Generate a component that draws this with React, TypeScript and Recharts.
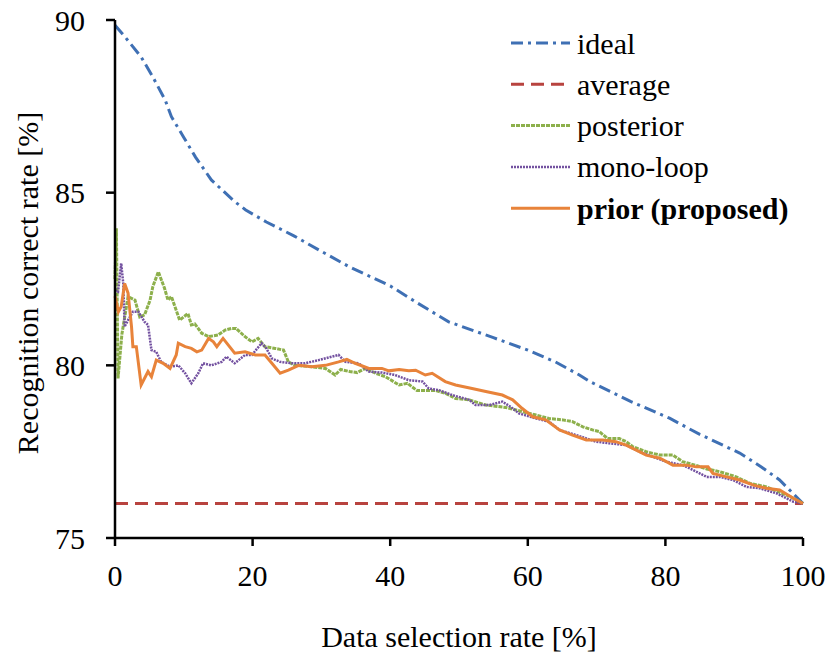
import { Line, LineChart, XAxis, YAxis } from 'recharts'

// Recognition correct rate vs. data selection rate for each selection method.

const FONT = '"Liberation Serif", "Times New Roman", serif'

const X_TICKS = [0, 20, 40, 60, 80, 100]
const Y_TICKS = [75, 80, 85, 90]

const idealX = [0, 1.5, 3.8, 5.5, 7.3, 8.2, 10, 11.7, 14, 17.4, 19, 22, 26, 30, 34, 40, 44, 48.5, 55, 60, 64, 67.5, 69, 75, 80.6, 85, 90.8, 94, 96.6, 100]
const idealY = [89.85, 89.5, 88.93, 88.35, 87.68, 87.2, 86.6, 86.03, 85.37, 84.74, 84.5, 84.15, 83.75, 83.3, 82.86, 82.3, 81.8, 81.26, 80.8, 80.44, 80.1, 79.72, 79.53, 78.95, 78.47, 78.0, 77.46, 77.05, 76.68, 76.0]

const averageX = [0, 100]
const averageY = [76, 76]

const posteriorX = [0, 0.2, 0.44, 1.0, 1.9, 2.9, 3.6, 4.3, 5.1, 5.5, 6.3, 7.2, 7.7, 8.2, 9.4, 10.6, 11.1, 11.6, 12.6, 13.6, 15, 16, 17, 17.6, 18.9, 19.9, 20.8, 21.8, 23.3, 24.5, 25.2, 26.2, 28.6, 30.6, 32, 32.8, 34.1, 35.2, 36.4, 37.9, 39.3, 41.3, 42.5, 43.9, 46.6, 48, 49.5, 51.5, 53.9, 56.8, 59.2, 61.2, 63.1, 65.1, 66.5, 68, 69.4, 70.4, 71.6, 73.3, 74.3, 75.3, 77.2, 79.2, 81.1, 82.5, 84.5, 86, 87.9, 90.3, 92.3, 94.7, 98.1, 100]
const posteriorY = [82.5, 83.97, 79.62, 80.9, 81.99, 81.89, 81.4, 81.46, 81.89, 82.28, 82.71, 82.23, 81.89, 81.99, 81.31, 81.5, 81.17, 81.2, 80.93, 80.83, 80.88, 81.02, 81.07, 81.07, 80.83, 80.68, 80.78, 80.54, 80.49, 80.44, 80.1, 80.0, 79.96, 79.91, 79.72, 79.88, 79.82, 79.79, 79.91, 79.77, 79.67, 79.43, 79.48, 79.27, 79.27, 79.19, 79.04, 79.0, 78.85, 78.78, 78.66, 78.56, 78.46, 78.42, 78.37, 78.22, 78.13, 78.08, 77.88, 77.88, 77.79, 77.64, 77.5, 77.4, 77.4, 77.21, 77.1, 77.0, 76.92, 76.77, 76.58, 76.48, 76.2, 76.0]

const monoLoopX = [0, 0.44, 0.9, 1.2, 1.4, 1.9, 2.6, 3.4, 4.3, 4.8, 5.3, 6, 6.7, 8, 9.2, 10.2, 11.1, 12.1, 12.8, 14, 15.5, 16.2, 17.4, 18.9, 19.9, 21.3, 22, 22.8, 24, 25.7, 27.6, 29.6, 31.5, 32.5, 33.5, 35.4, 36.9, 38.8, 40.7, 42.7, 44.7, 45.6, 47.1, 49, 51.5, 52.4, 54.4, 56.3, 57.5, 58.7, 61.2, 63.1, 64.6, 67.5, 69.9, 71.9, 74.3, 76.2, 78.2, 80.1, 82.5, 84, 86, 87.9, 89.8, 91.8, 93.7, 96.2, 98.6, 100]
const monoLoopY = [82.18, 82.13, 82.95, 82.37, 81.12, 81.31, 81.55, 81.55, 81.26, 81.17, 80.44, 80.39, 80.1, 79.96, 80.0, 79.77, 79.48, 79.77, 80.06, 80.0, 80.1, 80.25, 80.06, 80.3, 80.3, 80.64, 80.49, 80.2, 80.1, 80.06, 80.06, 80.15, 80.25, 80.3, 80.1, 80.06, 79.82, 79.79, 79.72, 79.57, 79.53, 79.33, 79.28, 79.14, 79.0, 78.85, 78.85, 78.95, 78.8, 78.61, 78.46, 78.37, 78.13, 77.95, 77.79, 77.74, 77.69, 77.5, 77.35, 77.21, 77.11, 76.97, 76.77, 76.77, 76.68, 76.48, 76.44, 76.29, 76.05, 76.0]

const priorX = [0, 0.5, 0.9, 1.4, 1.9, 2.4, 2.6, 3.1, 3.8, 4.8, 5.3, 6, 7, 8, 8.9, 9.2, 10.2, 11.1, 11.9, 12.6, 13.6, 14.3, 14.8, 15.7, 17.4, 18.9, 20.4, 21.8, 22.8, 24, 25.2, 26.7, 28.6, 30.6, 32.5, 33.7, 34.9, 36.9, 38.8, 39.8, 41.3, 42.7, 43.7, 45.1, 46.1, 48, 49.5, 51.9, 53.9, 56.3, 57.8, 59.2, 60.7, 62.6, 64.6, 66.5, 68.5, 70.9, 72.8, 74.3, 75.7, 77.2, 79.2, 81.1, 83, 84.5, 86.2, 86.9, 88.9, 90.8, 92.8, 94.7, 96.6, 98.6, 100]
const priorY = [82.0, 81.55, 81.7, 82.37, 82.09, 81.12, 80.54, 80.54, 79.43, 79.82, 79.67, 80.15, 80.06, 79.91, 80.3, 80.64, 80.54, 80.49, 80.39, 80.44, 80.78, 80.68, 80.54, 80.78, 80.35, 80.39, 80.3, 80.3, 80.06, 79.77, 79.86, 80.0, 79.96, 80.0, 80.1, 80.17, 80.06, 79.91, 79.91, 79.84, 79.88, 79.84, 79.86, 79.72, 79.77, 79.53, 79.43, 79.33, 79.24, 79.14, 79.0, 78.75, 78.51, 78.42, 78.13, 77.98, 77.84, 77.84, 77.79, 77.69, 77.55, 77.4, 77.31, 77.11, 77.11, 77.06, 77.06, 76.87, 76.77, 76.68, 76.53, 76.44, 76.39, 76.15, 76.0]

const toPoints = (xs: number[], ys: number[]) => xs.map((x, i) => ({ x, y: ys[i] }))

interface Series {
  name: string
  data: { x: number; y: number }[]
  color: string
  width: number
  dash?: string
  bold?: boolean
}

const SERIES: Series[] = [
  { name: 'ideal', data: toPoints(idealX, idealY), color: '#3F70B4', width: 3, dash: '12 5 3 5' },
  { name: 'average', data: toPoints(averageX, averageY), color: '#B8433F', width: 3, dash: '13 7' },
  { name: 'posterior', data: toPoints(posteriorX, posteriorY), color: '#8DB04C', width: 3, dash: '4 1' },
  { name: 'mono-loop', data: toPoints(monoLoopX, monoLoopY), color: '#7351A0', width: 2.5, dash: '2 1' },
  { name: 'prior (proposed)', data: toPoints(priorX, priorY), color: '#E8833A', width: 3, bold: true },
]

// Legend drawn as a plain overlay so it doesn't steal room from the plot area.
function LegendBox() {
  return (
    <svg width={320} height={210} style={{ position: 'absolute', left: 505, top: 22 }}>
      {SERIES.map((s, i) => {
        const cy = 21 + i * 41.3
        return (
          <g key={s.name}>
            <line x1={6} x2={65} y1={cy} y2={cy} stroke={s.color} strokeWidth={s.width} strokeDasharray={s.dash} />
            <text x={72} y={cy} dominantBaseline="central" fontFamily={FONT} fontSize={30} fontWeight={s.bold ? 'bold' : 'normal'} fill="#000">
              {s.name}
            </text>
          </g>
        )
      })}
    </svg>
  )
}

export default function App() {
  const tick = { fontSize: 30, fill: '#000', fontFamily: FONT }
  const axisStroke = { stroke: '#000', strokeWidth: 2.5 }
  return (
    <div style={{ position: 'absolute', left: 0, top: 0, width: 832, height: 655, background: '#fff' }}>
      <LineChart width={832} height={655} margin={{ top: 20, right: 29, bottom: 0, left: 0 }}>
        <XAxis
          type="number"
          dataKey="x"
          domain={[0, 100]}
          ticks={X_TICKS}
          height={117}
          tick={tick}
          tickSize={8}
          tickMargin={19}
          axisLine={axisStroke}
          tickLine={axisStroke}
          label={{
            content: () => (
              <text x={459} y={636} textAnchor="middle" dominantBaseline="central" fontFamily={FONT} fontSize={30} fill="#000">
                Data selection rate [%]
              </text>
            ),
          }}
        />
        <YAxis
          type="number"
          domain={[75, 90]}
          ticks={Y_TICKS}
          width={115}
          tick={tick}
          tickSize={9}
          tickMargin={21}
          axisLine={axisStroke}
          tickLine={axisStroke}
          label={{
            content: () => (
              <text
                x={27}
                y={283}
                transform="rotate(-90 27 283)"
                textAnchor="middle"
                dominantBaseline="central"
                fontFamily={FONT}
                fontSize={30}
                fill="#000"
              >
                Recognition correct rate [%]
              </text>
            ),
          }}
        />
        {SERIES.map((s) => (
          <Line
            key={s.name}
            data={s.data}
            dataKey="y"
            name={s.name}
            type="linear"
            stroke={s.color}
            strokeWidth={s.width}
            strokeDasharray={s.dash}
            dot={false}
            activeDot={false}
            isAnimationActive={false}
          />
        ))}
      </LineChart>
      <LegendBox />
    </div>
  )
}
